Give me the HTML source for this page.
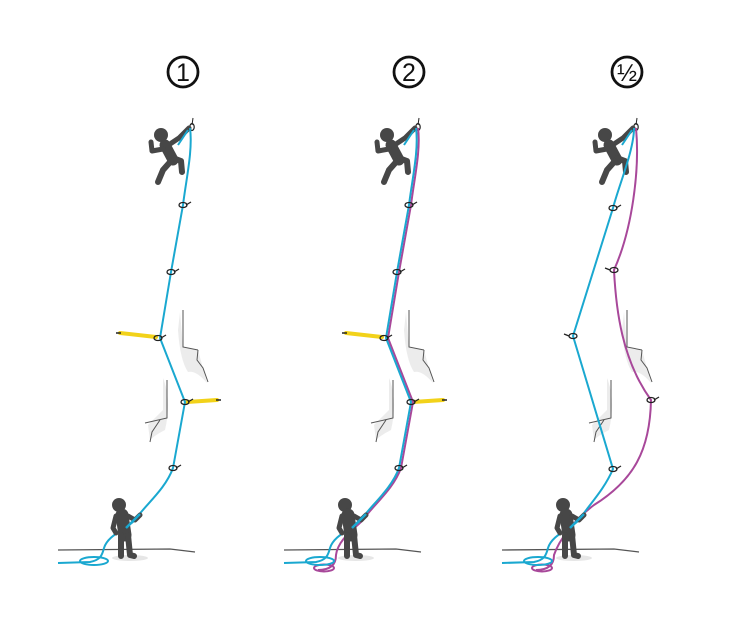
<!DOCTYPE html>
<html><head><meta charset="utf-8"><style>
html,body{margin:0;padding:0;background:#fff;}
svg{display:block;}
text{font-family:"Liberation Sans",sans-serif;}
</style></head><body>
<svg width="730" height="621" viewBox="0 0 730 621" xmlns="http://www.w3.org/2000/svg">
<defs>
<g id="climber" stroke="#474747" stroke-linecap="round" stroke-linejoin="round" fill="none">
  <circle cx="161" cy="135" r="7" fill="#474747" stroke="none"/>
  <path d="M165,145 L173,160" stroke-width="11"/>
  <path d="M167,146 L179,138 L189,128" stroke-width="5"/>
  <path d="M163,149 L152,151 L151,142" stroke-width="5"/>
  <path d="M173,158 L181,161 L182,172" stroke-width="6"/>
  <path d="M171,161 L163,170 L158,182" stroke-width="6"/>
</g>
<g id="belayer" stroke="#474747" stroke-linecap="round" stroke-linejoin="round" fill="none">
  <ellipse cx="130" cy="558" rx="18" ry="3" fill="#e6e6e6" stroke="none"/>
  <circle cx="119" cy="505" r="7" fill="#474747" stroke="none"/>
  <path d="M122,515 L125,535" stroke-width="13"/>
  <path d="M121,535 L121,556 M128,535 L130,555 L134,556" stroke-width="6"/>
  <path d="M116,516 L113,528 L116,533" stroke-width="5"/>
  <path d="M128,516 L135,520 L140,515" stroke-width="5"/>
</g>
<g id="base">
  <path d="M58,550 L170,549 L195,552" stroke="#555" stroke-width="1.3" fill="none"/>
  <path d="M180,312 L183,347 L198,350 L207,383 Q196,370 188,372 Q180,360 178,330 Z" fill="#ececec"/>
  <path d="M183,310 L183,347 L198,350 M198,350 L197,360 L203,368 L208,382" stroke="#555" stroke-width="1" fill="none"/>
  <path d="M163,378 Q172,400 165,430 Q155,435 150,440 L148,425 L163,410 Z" fill="#ececec"/>
  <path d="M167,380 L167,418 L145,423 M160,420 L152,432 L150,442" stroke="#555" stroke-width="1" fill="none"/>
  <path d="M193,118 L192,125" stroke="#222" stroke-width="1"/>
  <ellipse cx="192" cy="127" rx="2.2" ry="3.5" fill="none" stroke="#222" stroke-width="1.2"/>
</g>
<g id="qd"><ellipse cx="0" cy="0" rx="4" ry="2.5" fill="none" stroke="#222" stroke-width="1.3"/><path d="M3,0 L8,-3" stroke="#222" stroke-width="1.3"/></g>
<g id="qdl"><ellipse cx="0" cy="0" rx="4" ry="2.5" fill="none" stroke="#222" stroke-width="1.3"/><path d="M-4,0 L-9,-2" stroke="#222" stroke-width="1.3"/></g>
</defs>

<g fill="none" stroke="#111" stroke-width="2.8">
<circle cx="183" cy="72" r="15"/><circle cx="409" cy="72" r="15"/><circle cx="627" cy="72" r="15"/>
</g>
<text x="183" y="81" text-anchor="middle" font-size="25" fill="#111">1</text>
<text x="409" y="81" text-anchor="middle" font-size="25" fill="#111">2</text>
<text x="627" y="81" text-anchor="middle" font-size="24" fill="#111">½</text>

<g>
<use href="#base"/>
<path d="M120,333 L156,337 M187,402 L217,400" stroke="#f2d21a" stroke-width="4" stroke-linecap="round"/>
<path d="M116,333 L121,333 M216,400 L221,400" stroke="#222" stroke-width="1.5"/>
<use href="#climber"/>
<path d="M190,128 C193,150 186,180 183,205 L171,272 L160,338 L185,402 L173,468 C165,490 145,505 135,520 C125,530 108,535 104,548 C102,556 100,560 90,562 L58,563" fill="none" stroke="#1aa8d0" stroke-width="2"/>
<path d="M178,145 L188,130" stroke="#1aa8d0" stroke-width="2"/>
<ellipse cx="94" cy="561" rx="14" ry="4" fill="none" stroke="#1aa8d0" stroke-width="2"/>
<use href="#belayer"/>
<path d="M140,514 L126,528" stroke="#1aa8d0" stroke-width="2.5"/>
<use href="#qd" x="183" y="205"/><use href="#qd" x="171" y="272"/><use href="#qd" x="158" y="338"/><use href="#qd" x="185" y="402"/><use href="#qd" x="173" y="468"/>
</g>

<g transform="translate(226,0)">
<use href="#base"/>
<path d="M120,333 L156,337 M187,402 L217,400" stroke="#f2d21a" stroke-width="4" stroke-linecap="round"/>
<path d="M116,333 L121,333 M216,400 L221,400" stroke="#222" stroke-width="1.5"/>
<use href="#climber"/>
<path d="M192,128 C195,150 188,180 185,205 L173,272 L162,338 L187,402 L175,468 C167,490 147,505 137,520 C127,530 112,540 110,555 C110,565 104,570 92,570" fill="none" stroke="#a8489a" stroke-width="2"/>
<ellipse cx="98" cy="568" rx="10" ry="3.5" fill="none" stroke="#a8489a" stroke-width="2"/>
<path d="M190,128 C193,150 186,180 183,205 L171,272 L160,338 L185,402 L173,468 C165,490 145,505 135,520 C125,530 108,535 104,548 C102,556 100,560 90,562 L58,563" fill="none" stroke="#1aa8d0" stroke-width="2"/>
<path d="M178,145 L188,130" stroke="#1aa8d0" stroke-width="2"/>
<ellipse cx="94" cy="561" rx="14" ry="4" fill="none" stroke="#1aa8d0" stroke-width="2"/>
<use href="#belayer"/>
<path d="M140,514 L126,528" stroke="#1aa8d0" stroke-width="2.5"/>
<use href="#qd" x="183" y="205"/><use href="#qd" x="171" y="272"/><use href="#qd" x="158" y="338"/><use href="#qd" x="185" y="402"/><use href="#qd" x="173" y="468"/>
</g>

<g transform="translate(444,0)">
<use href="#base"/>
<use href="#climber"/>
<path d="M192,128 C196,170 188,230 170,270 C172,310 178,360 207,400 C206,450 190,480 150,505 C130,520 115,540 110,555 C110,565 104,570 92,570" fill="none" stroke="#a8489a" stroke-width="2"/>
<ellipse cx="98" cy="568" rx="10" ry="3.5" fill="none" stroke="#a8489a" stroke-width="2"/>
<path d="M190,128 C190,150 175,185 169,208 L129,336 L169,469 C160,490 145,505 135,520 C125,530 108,535 104,548 C102,556 100,560 90,562 L58,563" fill="none" stroke="#1aa8d0" stroke-width="2"/>
<path d="M178,145 L188,130" stroke="#1aa8d0" stroke-width="2"/>
<ellipse cx="94" cy="561" rx="14" ry="4" fill="none" stroke="#1aa8d0" stroke-width="2"/>
<use href="#belayer"/>
<path d="M140,514 L126,528" stroke="#1aa8d0" stroke-width="2.5"/>
<use href="#qd" x="169" y="208"/><use href="#qdl" x="170" y="270"/><use href="#qdl" x="129" y="336"/><use href="#qd" x="207" y="400"/><use href="#qd" x="169" y="469"/>
</g>
</svg>
</body></html>
